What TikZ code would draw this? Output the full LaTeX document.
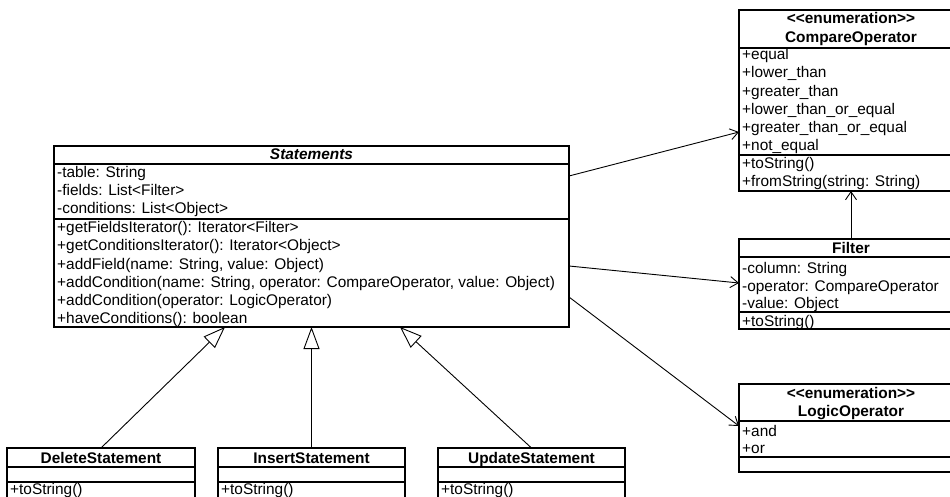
\documentclass[tikz,border=0pt]{standalone}
\usepackage{fontspec}
\setmainfont{Liberation Sans}
\usetikzlibrary{arrows.meta,calc}
\newcommand{\umlfont}{\fontsize{15.4}{18}\selectfont}
\newcommand{\umlbold}{\fontsize{15.4}{18}\selectfont\bfseries}
% keep the guillemet pairs as two separate angle brackets
\newcommand{\enumstereo}{<\kern0pt<enumeration>\kern0pt>}
\begin{document}
\begin{tikzpicture}[x=1pt,y=-1pt,
  classbox/.style={draw, line width=1.1pt, rectangle, inner sep=0pt, outer sep=0pt, anchor=north west},
  divider/.style={line width=1.1pt},
  member/.style={anchor=base west, inner sep=0pt, font=\umlfont},
  title/.style={anchor=base, inner sep=0pt, font=\umlbold},
  assoc/.style={line width=0.9pt, -{Straight Barb[length=8pt,width=11pt,line width=0.9pt]}},
  inherit/.style={line width=0.9pt, -{Triangle[open,length=22pt,width=16pt,line width=0.9pt,fill=white]}}]
\clip (0,0) rectangle (950,497);

% ---------- Statements ----------
\node[classbox, minimum width=515pt, minimum height=181pt] (stmt) at (54,146) {};
\draw[divider] ([yshift=-18pt]stmt.north west) -- ([yshift=-18pt]stmt.north east);
\draw[divider] ([yshift=-73pt]stmt.north west) -- ([yshift=-73pt]stmt.north east);
\node[title, font=\umlbold\itshape] (stmtT) at (311.5,160) {Statements};
\node[member] (stmtA1) at (57,178) {-table: String};
\node[member] (stmtA2) at (57,196) {-fields: List<Filter>};
\node[member] (stmtA3) at (57,214) {-conditions: List<Object>};
\node[member] (stmtM1) at (57,233) {+getFieldsIterator(): Iterator<Filter>};
\node[member] (stmtM2) at (57,251) {+getConditionsIterator(): Iterator<Object>};
\node[member] (stmtM3) at (57,269) {+addField(name: String, value: Object)};
\node[member] (stmtM4) at (57,287) {+addCondition(name: String, operator: CompareOperator, value: Object)};
\node[member] (stmtM5) at (57,305) {+addCondition(operator: LogicOperator)};
\node[member] (stmtM6) at (57,323) {+haveConditions(): boolean};

% ---------- CompareOperator ----------
\node[classbox, minimum width=224pt, minimum height=181pt] (cmp) at (739,10) {};
\draw[divider] ([yshift=-38pt]cmp.north west) -- ([yshift=-38pt]cmp.north east);
\draw[divider] ([yshift=-145pt]cmp.north west) -- ([yshift=-145pt]cmp.north east);
\node[title] (cmpS) at (851,24) {\enumstereo};
\node[title] (cmpT) at (851,42.5) {CompareOperator};
\node[member] (cmpA1) at (742,60) {+equal};
\node[member] (cmpA2) at (742,78) {+lower\_than};
\node[member] (cmpA3) at (742,96.5) {+greater\_than};
\node[member] (cmpA4) at (742,115) {+lower\_than\_or\_equal};
\node[member] (cmpA5) at (742,133) {+greater\_than\_or\_equal};
\node[member] (cmpA6) at (742,151) {+not\_equal};
\node[member] (cmpM1) at (742,169) {+toString()};
\node[member] (cmpM2) at (742,187) {+fromString(string: String)};

% ---------- Filter ----------
\node[classbox, minimum width=224pt, minimum height=90pt] (filter) at (739,239) {};
\draw[divider] ([yshift=-18pt]filter.north west) -- ([yshift=-18pt]filter.north east);
\draw[divider] ([yshift=-73pt]filter.north west) -- ([yshift=-73pt]filter.north east);
\node[title] (filterT) at (851,253.5) {Filter};
\node[member] (filterA1) at (742,273) {-column: String};
\node[member] (filterA2) at (742,291) {-operator: CompareOperator};
\node[member] (filterA3) at (742,308.5) {-value: Object};
\node[member] (filterM1) at (742,326) {+toString()};

% ---------- LogicOperator ----------
\node[classbox, minimum width=224pt, minimum height=88pt] (logic) at (739,384) {};
\draw[divider] ([yshift=-37pt]logic.north west) -- ([yshift=-37pt]logic.north east);
\draw[divider] ([yshift=-73pt]logic.north west) -- ([yshift=-73pt]logic.north east);
\node[title] (logicS) at (851,398) {\enumstereo};
\node[title] (logicT) at (851,416.5) {LogicOperator};
\node[member] (logicA1) at (742,436) {+and};
\node[member] (logicA2) at (742,453) {+or};

% ---------- subclasses ----------
\node[classbox, minimum width=188pt, minimum height=70pt] (del) at (7,448) {};
\draw[divider] ([yshift=-19pt]del.north west) -- ([yshift=-19pt]del.north east);
\draw[divider] ([yshift=-34pt]del.north west) -- ([yshift=-34pt]del.north east);
\node[title] (delT) at (101,463.5) {DeleteStatement};
\node[member] (delM1) at (10,494) {+toString()};

\node[classbox, minimum width=187pt, minimum height=70pt] (ins) at (218,448) {};
\draw[divider] ([yshift=-19pt]ins.north west) -- ([yshift=-19pt]ins.north east);
\draw[divider] ([yshift=-34pt]ins.north west) -- ([yshift=-34pt]ins.north east);
\node[title] (insT) at (311.5,463.5) {InsertStatement};
\node[member] (insM1) at (221,494) {+toString()};

\node[classbox, minimum width=187pt, minimum height=70pt] (upd) at (438,448) {};
\draw[divider] ([yshift=-19pt]upd.north west) -- ([yshift=-19pt]upd.north east);
\draw[divider] ([yshift=-34pt]upd.north west) -- ([yshift=-34pt]upd.north east);
\node[title] (updT) at (531.5,463.5) {UpdateStatement};
\node[member] (updM1) at (441,494) {+toString()};

% ---------- associations ----------
\draw[assoc] ([yshift=-30pt]stmt.north east) -- ([yshift=-122pt]cmp.north west);
\draw[assoc] ([yshift=-120pt]stmt.north east) -- ([yshift=-44pt]filter.north west);
\draw[assoc] ([yshift=-151pt]stmt.north east) -- ([yshift=-42pt]logic.north west);
\draw[assoc] (filter.north) -- (filter.north |- cmp.south);

% ---------- generalizations ----------
\draw[inherit] (del.north) -- ([xshift=171pt]stmt.south west);
\draw[inherit] (ins.north) -- (ins.north |- stmt.south);
\draw[inherit] (upd.north) -- ([xshift=346pt]stmt.south west);
\end{tikzpicture}
\end{document}
